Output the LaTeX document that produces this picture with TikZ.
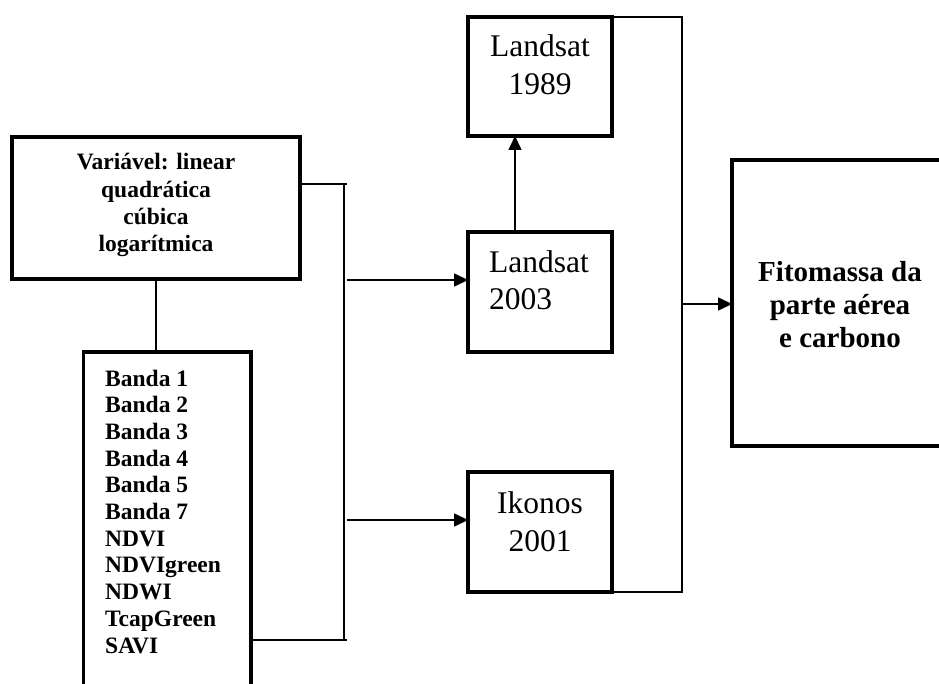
\documentclass[tikz,border=0pt]{standalone}
\usepackage{fontspec}
\setmainfont{Liberation Serif}
\usetikzlibrary{arrows.meta}
\begin{document}
\begin{tikzpicture}[x=1pt,y=-1pt,
  box/.style={draw,line width=3.6pt,inner sep=0pt,outer sep=0pt},
  conn/.style={line width=1.6pt},
  arr/.style={conn,-{Triangle[length=14pt,width=13pt]}},
  bt/.style={font=\fontsize{23.5}{27}\selectfont\bfseries,inner sep=0pt},
  rt/.style={font=\fontsize{31.5}{36}\selectfont,inner sep=0pt},
  ft/.style={font=\fontsize{29}{33}\selectfont\bfseries,inner sep=0pt}]
\useasboundingbox (0,0) rectangle (939,684);
\clip (0,0) rectangle (939,684);
% boxes
\node[box,minimum width=288pt,minimum height=142pt] (var) at (156,208) {};
\node[box,minimum width=167.3pt,minimum height=368pt] (banda) at (167.3,536) {};
\node[box,minimum width=144pt,minimum height=119pt] (l89) at (540,76.5) {};
\node[box,minimum width=144pt,minimum height=120pt] (l03) at (540,292) {};
\node[box,minimum width=144pt,minimum height=120pt] (ik) at (540,532) {};
\node[box,minimum width=248pt,minimum height=286pt] (fit) at (856,303) {};
% texts
\node[bt,anchor=base] (v1) at (156,170) {Variável: linear};
\node[bt,anchor=base] (v2) at (156,198) {quadrática};
\node[bt,anchor=base] (v3) at (156,225) {cúbica};
\node[bt,anchor=base] (v4) at (156,252) {logarítmica};
\foreach \t [count=\i from 0] in {Banda 1,Banda 2,Banda 3,Banda 4,Banda 5,Banda 7,NDVI,NDVIgreen,NDWI,TcapGreen,SAVI}
  \node[bt,anchor=base west] (b\i) at (105,386+26.7*\i) {\t};
\node[rt,anchor=base] (l89a) at (540,57) {Landsat};
\node[rt,anchor=base] (l89b) at (540,95) {1989};
\node[rt,anchor=base west] (l03a) at (489,273) {Landsat};
\node[rt,anchor=base west] (l03b) at (489,310) {2003};
\node[rt,anchor=base] (ika) at (540,513) {Ikonos};
\node[rt,anchor=base] (ikb) at (540,551) {2001};
\node[ft,anchor=base] (f1) at (840,282) {Fitomassa da};
\node[ft,anchor=base] (f2) at (840,315) {parte aérea};
\node[ft,anchor=base] (f3) at (840,347) {e carbono};
% connectors
\coordinate (bt) at (347,184);
\coordinate (bb) at (347,640);
\coordinate (vt) at (344,184);
\coordinate (vb) at (344,640);
\coordinate (a1) at (347,280);
\coordinate (a2) at (347,520);
\coordinate (up) at (515,0);
\coordinate (rtop) at (682,17);
\coordinate (rbot) at (682,592);
\coordinate (a3) at (682,304);
\draw[conn] (var.east |- bt) -- (bt);
\draw[conn] (banda.east |- bb) -- (bb);
\draw[conn] (vt) -- (vb);
\draw[arr] (a1) -- (l03.west |- a1);
\draw[arr] (a2) -- (ik.west |- a2);
\draw[conn] (var.south) -- (var.south |- banda.north);
\draw[arr] (l03.north -| up) -- (l89.south -| up);
\draw[conn] (l89.north east) -- (rtop) -- (rbot) -- (ik.south east);
\draw[arr] (a3) -- (fit.west |- a3);
\end{tikzpicture}
\end{document}
